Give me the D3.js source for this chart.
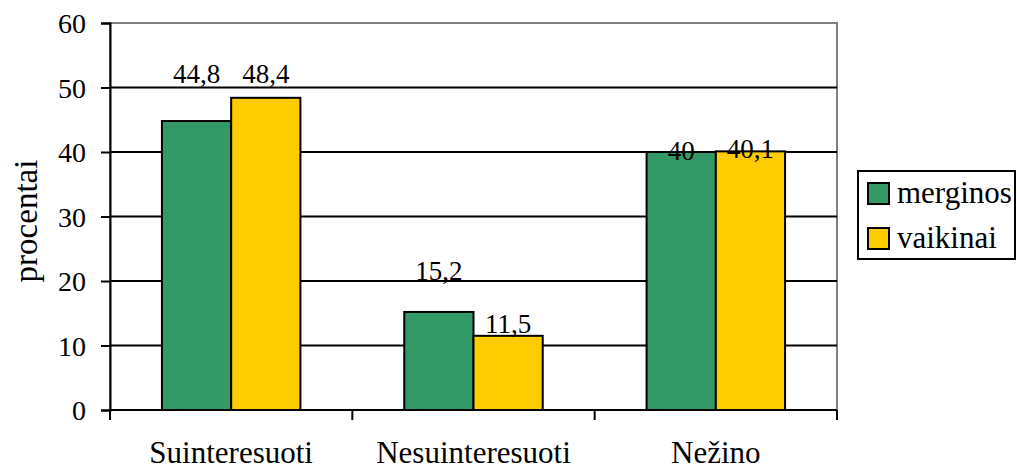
<!DOCTYPE html>
<html lang="en">
<head>
<meta charset="UTF-8">
<title>chart</title>
<style>
  body { margin: 0; background: #fff; }
</style>
</head>
<body>
<script src="https://d3js.org/d3.v7.min.js"></script>
<script>
    const categories = ["Suinteresuoti", "Nesuinteresuoti", "Nežino"];
    const seriesNames = ["merginos", "vaikinai"];
    const merginos = [44.8, 15.2, 40];
    const vaikinai = [48.4, 11.5, 40.1];
    const valueLabels = [["44,8", "15,2", "40"], ["48,4", "11,5", "40,1"]];
    const yTicks = [0, 10, 20, 30, 40, 50, 60];
    const colors = ["#339966", "#ffcc00"];

    const w = 1017, h = 470;
    const pLeft = 110, pRight = 837, pTop = 23, pBottom = 410;
    const font = "'Liberation Serif', 'Times New Roman', serif";

    const svg = d3.select("body").append("svg")
        .attr("width", w)
        .attr("height", h)
        .style("font-family", font)
        .style("font-size", "27px");

    const x = d3.scaleBand().domain(categories).range([pLeft, pRight]).paddingInner(0).paddingOuter(0);
    const y = d3.scaleLinear().domain([0, 60]).range([pBottom, pTop]);
    // two bars per band, gap width 150%
    const barW = x.bandwidth() / 3.5;
    const inner = d3.scaleBand().domain(seriesNames).range([0.75 * barW, 2.75 * barW]);

    // plot border (grey) + gridlines
    svg.append("rect")
        .attr("x", pLeft).attr("y", pTop)
        .attr("width", pRight - pLeft).attr("height", pBottom - pTop)
        .attr("fill", "none").attr("stroke", "#808080").attr("stroke-width", 2);

    svg.selectAll("line.grid").data(yTicks.filter(t => t > 0 && t < 60)).enter().append("line")
        .attr("x1", pLeft).attr("x2", pRight)
        .attr("y1", d => y(d)).attr("y2", d => y(d))
        .attr("stroke", "#000").attr("stroke-width", 2);

    const series = [merginos, vaikinai];
    series.forEach((vals, si) => {
        svg.selectAll("rect.s" + si).data(vals).enter().append("rect")
            .attr("x", (d, i) => x(categories[i]) + inner(seriesNames[si]))
            .attr("y", d => y(d))
            .attr("width", inner.bandwidth())
            .attr("height", d => pBottom - y(d))
            .attr("fill", colors[si])
            .attr("stroke", "#000").attr("stroke-width", 2);
    });

    // value labels (Excel placed these unevenly)
    const labelLift = [[38, 32, -8], [15, 3, -7]];
    series.forEach((vals, si) => {
        svg.selectAll("text.l" + si).data(vals).enter().append("text")
            .attr("x", (d, i) => x(categories[i]) + inner(seriesNames[si]) + inner.bandwidth() / 2)
            .attr("y", (d, i) => y(d) - labelLift[si][i])
            .attr("text-anchor", "middle")
            .text((d, i) => valueLabels[si][i]);
    });

    // y axis
    const yAxis = svg.append("g")
        .attr("transform", `translate(${pLeft},0)`)
        .call(d3.axisLeft(y).tickValues(yTicks).tickSize(9).tickPadding(15))
        .attr("font-family", null).attr("font-size", null)
        .style("font-size", "28px");
    yAxis.select(".domain").attr("stroke", "#000").attr("stroke-width", 2);
    yAxis.selectAll(".tick line").attr("stroke", "#000").attr("stroke-width", 2);
    yAxis.selectAll(".tick text").attr("dy", "0.35em");

    // x axis
    svg.append("line")
        .attr("x1", pLeft).attr("x2", pRight)
        .attr("y1", pBottom).attr("y2", pBottom)
        .attr("stroke", "#000").attr("stroke-width", 2);
    const bounds = categories.map(c => x(c)).concat([pRight]);
    svg.selectAll("line.xt").data(bounds).enter().append("line")
        .attr("x1", d => d).attr("x2", d => d)
        .attr("y1", pBottom).attr("y2", pBottom + 10)
        .attr("stroke", "#000").attr("stroke-width", 2);
    svg.selectAll("text.cat").data(categories).enter().append("text")
        .attr("x", d => x(d) + x.bandwidth() / 2)
        .attr("y", 463)
        .attr("text-anchor", "middle")
        .style("font-size", "31px")
        .text(d => d);

    // y title
    svg.append("text")
        .attr("transform", `translate(37,221) rotate(-90)`)
        .attr("text-anchor", "middle")
        .style("font-size", "33px")
        .text("procentai");

    // legend
    const lg = svg.append("g").attr("transform", "translate(858,171)");
    lg.append("rect").attr("width", 157).attr("height", 88)
        .attr("fill", "#fff").attr("stroke", "#000").attr("stroke-width", 2);
    seriesNames.forEach((s, i) => {
        lg.append("rect")
            .attr("x", 10).attr("y", 12 + i * 45)
            .attr("width", 21).attr("height", 21)
            .attr("fill", colors[i]).attr("stroke", "#000").attr("stroke-width", 2);
        lg.append("text")
            .attr("x", 39).attr("y", 32 + i * 45)
            .style("font-size", "31px")
            .text(s);
    });
</script>
</body>
</html>
